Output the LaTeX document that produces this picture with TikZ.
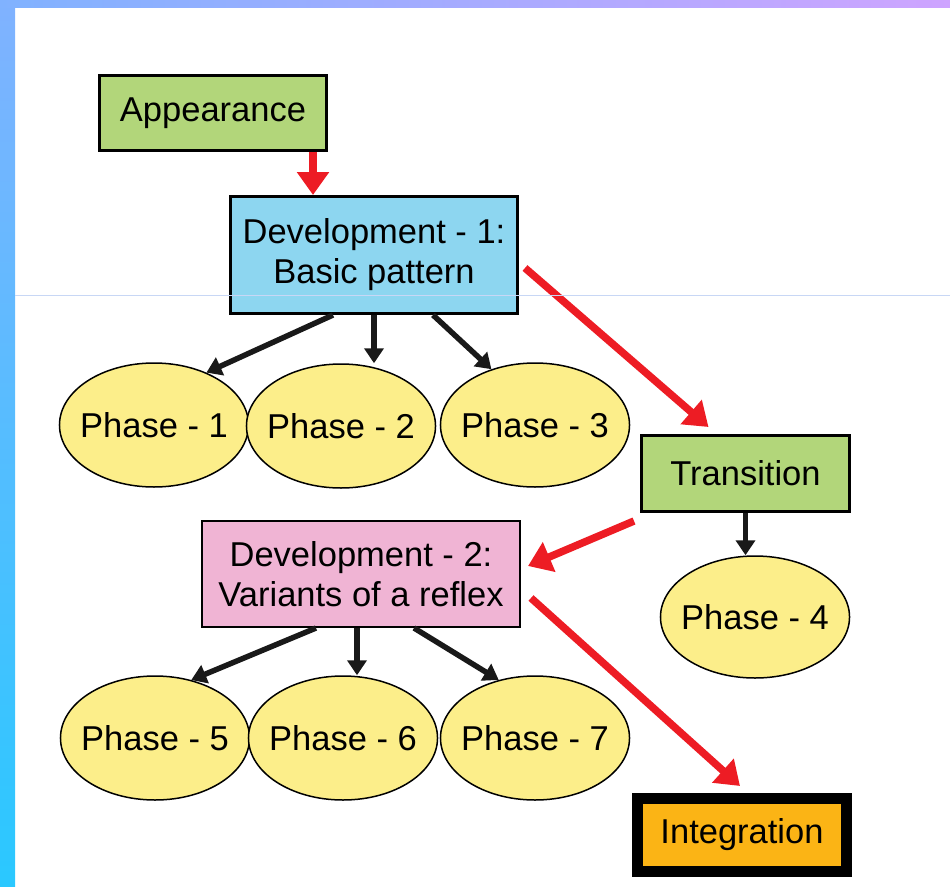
\documentclass[tikz,border=0pt]{standalone}
\usepackage{fontspec}
\setmainfont{Liberation Sans}
\usetikzlibrary{shapes.geometric,arrows.meta}
\definecolor{boxgreen}{RGB}{178,214,122}
\definecolor{boxblue}{RGB}{141,214,240}
\definecolor{boxpink}{RGB}{240,180,212}
\definecolor{phaseyellow}{RGB}{252,238,138}
\definecolor{boxorange}{RGB}{251,180,21}
\definecolor{arrred}{RGB}{237,28,36}
\definecolor{bartop}{RGB}{128,178,255}
\definecolor{barright}{RGB}{206,164,255}
\definecolor{barbottom}{RGB}{42,200,255}
\definecolor{faintline}{RGB}{200,215,245}
\begin{document}
\begin{tikzpicture}[x=1pt,y=-1pt,
stage/.style={%
draw,
line width=3pt,
inner sep=0pt,
align=center,
font=\fontsize{34.5}{40}\selectfont
},
phase/.style={%
ellipse,
draw,
line width=1.5pt,
fill=phaseyellow,
minimum width=188pt,
minimum height=124pt,
inner xsep=-7pt,
inner ysep=0pt,
font=\fontsize{34.5}{40}\selectfont
},
redarr/.style={%
arrred,
line width=7.5pt,
-{Triangle[length=23pt,width=31pt]}
},
blkarr/.style={%
black!90,
line width=5.5pt,
-{Triangle[length=15pt,width=19pt]}
},
]
%% frame
\useasboundingbox(0,0)rectangle(950,886);
\fill[top color=bartop,bottom color=barbottom](0,0)rectangle(15,886);
\fill[left color=bartop,right color=barright](0,0)rectangle(950,7);
%%stages
\node[stage,fill=boxgreen,minimum width=227pt,minimum height=75pt](app)at(213,113){Appearance};
\node[stage,fill=boxblue,minimum width=287pt,minimum height=117pt](dev1)at(374,255){Development - 1:\\Basic pattern};
\node[stage,fill=boxgreen,minimum width=208pt,minimum height=76pt](trans)at(745.5,473.5){Transition};
\node[stage,fill=boxpink,line width=2pt,minimum width=318pt,minimum height=106pt](dev2)at(361,574){Development - 2:\\Variants of a reflex};
\node[stage,fill=boxorange,line width=11pt,minimum width=209pt,minimum height=73pt](integ)at(742,835){Integration};
%%phases
\node[phase](ph1)at(154,425){Phase - 1};
\node[phase](ph2)at(341,426){Phase - 2};
\node[phase](ph3)at(535,425){Phase - 3};
\node[phase,minimum width=186pt,minimum height=122pt](ph4)at(755,617){Phase - 4};
\node[phase](ph5)at(155,738){Phase - 5};
\node[phase](ph6)at(343,738){Phase - 6};
\node[phase](ph7)at(535,738){Phase - 7};
%%red arrows
\draw[redarr]([xshift=100pt]app.south)--([xshift=100pt]app.south|-dev1.north);
\draw[redarr]([xshift=6pt,yshift=-13pt]dev1.east)--([xshift=-37pt,yshift=7pt]trans.north);
\draw[redarr]([xshift=-6pt,yshift=-8pt]trans.south west)--([xshift=7pt,yshift=8pt]dev2.east);
\draw[redarr]([xshift=10pt,yshift=-24pt]dev2.east)--([xshift=-2pt,yshift=7pt]integ.north);
%%black arrows
\draw[blkarr]([xshift=-41pt]dev1.south)--(ph1.45);
\draw[blkarr](dev1.south)--(dev1.south|-ph2.north);
\draw[blkarr]([xshift=59pt]dev1.south)--(ph3.128);
\draw[blkarr](trans.south)--(trans.south|-ph4.north);
\draw[blkarr]([xshift=-45pt]dev2.south)--(ph5.58);
\draw[blkarr]([xshift=-4pt]dev2.south)--([xshift=-4pt]dev2.south|-ph6.north);
\draw[blkarr]([xshift=53pt]dev2.south)--(ph7.122);
%% Line
\draw[faintline,line width=1pt](15,295)--(950,295);
\end{tikzpicture}
\end{document}
